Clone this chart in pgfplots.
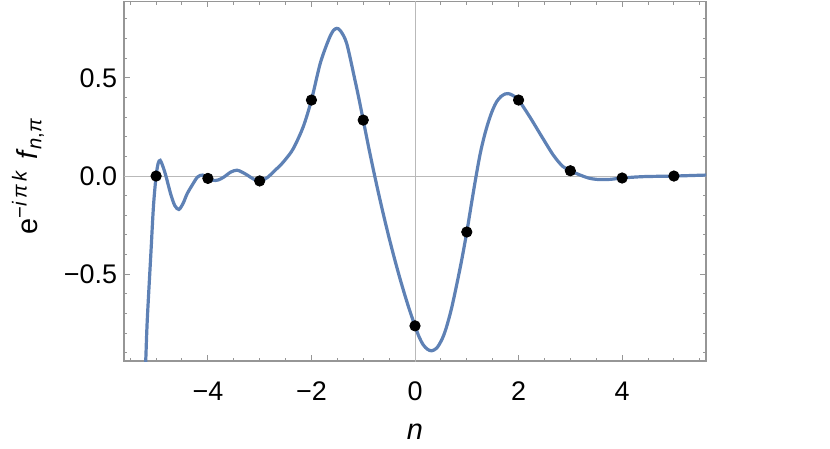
\documentclass[border=0pt]{standalone}
\usepackage{fontspec}
\setmainfont{Liberation Sans}
\usepackage{pgfplots}
\pgfplotsset{compat=1.18}
\definecolor{mmablue}{RGB}{94,129,181}
\definecolor{framegray}{RGB}{150,150,150}
\definecolor{zerogray}{RGB}{185,185,185}

\begin{document}
\begin{tikzpicture}
\useasboundingbox (-62bp,-44bp) rectangle (353bp,180.5bp);
\begin{axis}[
  at={(0,0)}, anchor=south west,
  scale only axis, width=291bp, height=179.75bp,
  xmin=-5.62, xmax=5.62, ymin=-0.942, ymax=0.889,
  axis line style={framegray, line width=0.7bp},
  xtick={-4,-2,0,2,4},
  xticklabels={−4,−2,0,2,4},
  ytick={-0.5,0,0.5},
  yticklabels={−0.5,0.0,0.5},
  minor xtick={-5.5,-5,-4.5,-3.5,-3,-2.5,-1.5,-1,-0.5,0.5,1,1.5,2.5,3,3.5,4.5,5,5.5},
  minor ytick={-0.9,-0.8,-0.7,-0.6,-0.4,-0.3,-0.2,-0.1,0.1,0.2,0.3,0.4,0.6,0.7,0.8},
  tick align=inside,
  major tick length=3bp, minor tick length=1.6bp,
  every tick/.style={framegray, line width=0.5bp},
  tick label style={font=\fontsize{13.5}{16}\selectfont, text=black},
  xticklabel style={anchor=center, yshift=-15bp},
  yticklabel style={anchor=east, inner sep=0pt, xshift=-3.25bp},
  label style={font=\fontsize{14.5}{17}\selectfont},
  xlabel={\textit{n}},
  xlabel style={at={(axis description cs:0.5,-0.1975)}, anchor=center},
  ylabel={e\textsuperscript{−\textit{i\,π\,k}}\,\,\textit{f}\textsubscript{\textit{n},\textit{π}}},
  ylabel style={at={(axis description cs:-0.165,0.515)}, anchor=center, rotate=0},
]
% zero lines
\addplot[zerogray, line width=0.5bp] coordinates {(0,-1) (0,1)};
\addplot[zerogray, line width=0.5bp] coordinates {(-6,0) (6,0)};
% interpolated curve
\addplot[mmablue, line width=1.6bp, smooth] coordinates {
(-5.23,-1.15) (-5.20,-0.94) (-5.17,-0.73) (-5.10,-0.39) (-5.05,-0.15)
(-5.00,0.00) (-4.96,0.065) (-4.92,0.08) (-4.87,0.05) (-4.81,0.00)
(-4.72,-0.09) (-4.64,-0.15) (-4.56,-0.17) (-4.48,-0.14) (-4.40,-0.09)
(-4.30,-0.045) (-4.20,-0.005) (-4.10,0.005) (-4.00,-0.012) (-3.90,-0.022)
(-3.80,-0.02) (-3.69,-0.005) (-3.56,0.02) (-3.44,0.03) (-3.34,0.02)
(-3.24,0.005) (-3.12,-0.015) (-3.00,-0.025) (-2.85,-0.007) (-2.72,0.025)
(-2.60,0.055) (-2.50,0.085) (-2.35,0.14) (-2.16,0.25) (-2.00,0.387)
(-1.83,0.574) (-1.67,0.693) (-1.58,0.74) (-1.51,0.752) (-1.44,0.74)
(-1.32,0.676) (-1.16,0.489) (-1.08,0.39) (-1.00,0.285) (-0.90,0.153)
(-0.80,0.027) (-0.70,-0.093) (-0.60,-0.207) (-0.50,-0.315) (-0.40,-0.417)
(-0.30,-0.513) (-0.20,-0.603) (-0.10,-0.687) (0.00,-0.763) (0.08,-0.82)
(0.16,-0.86) (0.24,-0.882) (0.32,-0.89) (0.42,-0.876) (0.52,-0.832)
(0.60,-0.776) (0.70,-0.68) (0.80,-0.56) (0.90,-0.43) (1.00,-0.285)
(1.10,-0.125) (1.18,0.00) (1.26,0.115) (1.34,0.205) (1.42,0.278)
(1.50,0.337) (1.58,0.38) (1.66,0.405) (1.74,0.418) (1.80,0.42)
(1.88,0.412) (2.00,0.387) (2.22,0.30) (2.45,0.20) (2.67,0.107)
(2.85,0.05) (3.00,0.027) (3.19,0.005) (3.35,-0.01) (3.51,-0.017)
(3.76,-0.017) (4.00,-0.01) (4.41,-0.003) (5.00,0.00) (5.62,0.005)
(5.70,0.005)
};
% sample points
\addplot[only marks, mark=*, mark size=2.6bp, black] coordinates {
(-5,0) (-4,-0.012) (-3,-0.025) (-2,0.387) (-1,0.285) (0,-0.763)
(1,-0.285) (2,0.387) (3,0.027) (4,-0.01) (5,0)
};
\end{axis}
\end{tikzpicture}
\end{document}
